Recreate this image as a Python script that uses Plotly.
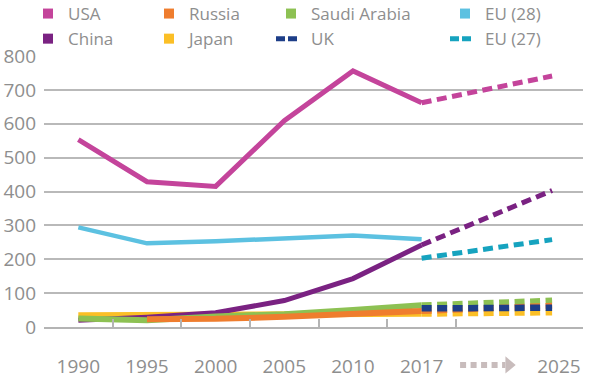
import plotly.graph_objects as go

# ---------------- data ----------------
hist_years = ["1990", "1995", "2000", "2005", "2010", "2017"]
proj_years = ["2017", "2025"]
axis_labels = ["1990", "1995", "2000", "2005", "2010", "2017", "2025"]

usa = [553, 429, 415, 609, 756, 662]
usa_proj = [662, 741]
china = [20, 29, 42, 78, 143, 242]
china_proj = [242, 403]
eu28 = [294, 247, 253, 263, 270, 259]
eu27_proj = [203, 258]
japan = [35, 36, 38, 36, 37, 39]
japan_proj = [39, 43]
saudi = [25, 20, 31, 38, 50, 64]
saudi_proj = [64, 78]
russia = [None, 23, 24, 30, 38, 47]
russia_proj = [47, 63]
uk_proj = [55, 57]

y_ticks = [0, 100, 200, 300, 400, 500, 600, 700, 800]

# ---------------- styling ----------------
C = {
    "USA": "#c4449b", "China": "#7a2282", "Russia": "#ef7d2e", "Japan": "#fbbf26",
    "Saudi Arabia": "#8dc153", "UK": "#1d3e88", "EU (28)": "#5cc1e1", "EU (27)": "#16a3bf",
}
FONT = "Open Sans"
GREY = "#8e8e8e"
DASH = "10px,5.5px"

# x scale: category bands of width 1; historical years sit in band centres,
# the projection end year sits in the wider last band
hist_x = [i + 0.5 for i in range(len(hist_years))]
proj_x = [hist_x[-1], hist_x[-1] + 1.9]
label_x = hist_x + [7.5]
band_edges = [0, 1, 2, 3, 4, 5, 6, 7.85]
X_RANGE = [0, band_edges[-1]]

fig = go.Figure()

def solid(name, y, w):
    fig.add_trace(go.Scatter(x=hist_x, y=y, mode="lines", name=name, showlegend=False,
                             line=dict(color=C[name], width=w), hoverinfo="skip"))

def dashed(name, y, w):
    fig.add_trace(go.Scatter(x=proj_x, y=y, mode="lines", name=name, showlegend=False,
                             line=dict(color=C[name], width=w, dash=DASH), hoverinfo="skip"))

solid("EU (28)", eu28, 4.5)
solid("USA", usa, 5)
dashed("USA", usa_proj, 5)
solid("Japan", japan, 6)
solid("China", china, 5)
dashed("China", china_proj, 5)
solid("Saudi Arabia", saudi, 6)
solid("Russia", russia, 6)
dashed("EU (27)", eu27_proj, 5)
dashed("Japan", japan_proj, 6)
dashed("Saudi Arabia", saudi_proj, 6)
dashed("Russia", russia_proj, 6)
dashed("UK", uk_proj, 6.5)

# legend entries
legend_cols = [
    ("legend", ["USA", "China"]),
    ("legend2", ["Russia", "Japan"]),
    ("legend3", ["Saudi Arabia", "UK"]),
    ("legend4", ["EU (28)", "EU (27)"]),
]
for lg, names in legend_cols:
    for n in names:
        if n in ("UK", "EU (27)"):
            fig.add_trace(go.Scatter(x=[None], y=[None], mode="lines", name=n, legend=lg,
                                     line=dict(color=C[n], width=5, dash="9px,3px,9px,300px")))
        else:
            fig.add_trace(go.Scatter(x=[None], y=[None], mode="markers", name=n, legend=lg,
                                     marker=dict(color=C[n], size=10, symbol="square")))

# tick-label carrier on the overlaid label axis
fig.add_trace(go.Scatter(x=label_x, y=[None] * len(label_x), xaxis="x2", mode="lines",
                         showlegend=False, hoverinfo="skip"))

legend_x = {"legend": 28, "legend2": 149, "legend3": 271, "legend4": 445}
leg_common = dict(xref="container", yref="container", xanchor="left", yanchor="bottom",
                  y=1 - 57 / 382, orientation="v", bgcolor="rgba(0,0,0,0)",
                  font=dict(family=FONT, size=17, color=GREY), tracegroupgap=0,
                  itemclick=False, itemdoubleclick=False)

arrow_col = "#c8bcbc"
shapes = [
    dict(type="line", xref="x", yref="paper", x0=6.06, x1=6.72, y0=-0.140, y1=-0.140,
         line=dict(color=arrow_col, width=6, dash="6px,4.5px")),
    dict(type="path", xref="x", yref="paper",
         path="M 6.72,-0.108 L 6.87,-0.140 L 6.72,-0.172 Z",
         fillcolor=arrow_col, line=dict(width=0)),
]

fig.update_layout(
    width=596, height=382,
    margin=dict(l=44, r=13, t=56, b=55, autoexpand=False),
    paper_bgcolor="white", plot_bgcolor="white",
    font=dict(family=FONT, color=GREY),
    showlegend=True,
    legend=dict(x=legend_x["legend"] / 596, **leg_common),
    legend2=dict(x=legend_x["legend2"] / 596, **leg_common),
    legend3=dict(x=legend_x["legend3"] / 596, **leg_common),
    legend4=dict(x=legend_x["legend4"] / 596, **leg_common),
    xaxis=dict(range=X_RANGE, autorange=False, showgrid=False, zeroline=False,
               showline=True, linecolor="#b4b4b4", linewidth=1.5,
               tickmode="array", tickvals=band_edges, ticks="inside", ticklen=8,
               tickcolor="#b4b4b4", tickwidth=1.5, showticklabels=False, fixedrange=True),
    xaxis2=dict(overlaying="x", side="bottom", range=X_RANGE, autorange=False,
                showgrid=False, zeroline=False, showline=False,
                tickmode="array", tickvals=label_x, ticktext=axis_labels, ticks="",
                ticklabelstandoff=26, tickfont=dict(family=FONT, size=19, color=GREY),
                fixedrange=True),
    yaxis=dict(range=[0, 800], autorange=False, tickmode="array", tickvals=y_ticks,
               showgrid=True, gridcolor="#b9b9b9", gridwidth=1.5, zeroline=False,
               showline=False, ticks="", ticklabelstandoff=7,
               tickfont=dict(family=FONT, size=19, color=GREY), fixedrange=True),
    shapes=shapes,
)

fig.write_html("out.html")
